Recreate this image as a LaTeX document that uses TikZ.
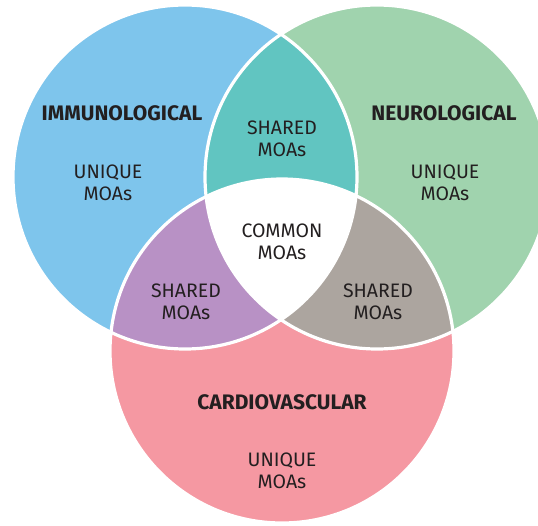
\documentclass[tikz,border=0pt]{standalone}
\usepackage{fontspec}
\setmainfont{Fira Sans}
\definecolor{cblue}{HTML}{7EC5EC}
\definecolor{cgreen}{HTML}{A0D3AE}
\definecolor{cred}{HTML}{F598A2}
\definecolor{cteal}{HTML}{61C5C1}
\definecolor{cpurple}{HTML}{B891C5}
\definecolor{cgray}{HTML}{ACA59F}
\definecolor{ctext}{HTML}{231F20}
\tikzset{
  lbl/.style={text=ctext, align=center, font=\fontsize{19.5}{22}\selectfont, inner sep=0pt},
  ttl/.style={text=ctext, align=center, font=\fontsize{21}{22}\selectfont\bfseries, inner sep=0pt},
  rim/.style={draw=white, line width=3.2pt}
}
\begin{document}
\begin{tikzpicture}[x=1pt,y=-1pt]
\useasboundingbox (0,0) rectangle (538,525);
\clip (0,0) rectangle (538,525);
\def\R{172}
\coordinate (cb) at (185,177);
\coordinate (cg) at (377,177);
\coordinate (cr) at (282,351);
\fill[cblue] (cb) circle[radius=\R];
\fill[cgreen] (cg) circle[radius=\R];
\fill[cred] (cr) circle[radius=\R];
\begin{scope}
  \clip (cb) circle[radius=\R];
  \fill[cteal] (cg) circle[radius=\R];
  \fill[cpurple] (cr) circle[radius=\R];
  \clip (cg) circle[radius=\R];
  \fill[white] (cr) circle[radius=\R];
\end{scope}
\begin{scope}
  \clip (cg) circle[radius=\R];
  \clip (cr) circle[radius=\R];
  \fill[cgray] (cr) circle[radius=\R];
  \clip (cb) circle[radius=\R];
  \fill[white] (cr) circle[radius=\R];
\end{scope}
\draw[rim] (cb) circle[radius=\R];
\draw[rim] (cg) circle[radius=\R];
\draw[rim] (cr) circle[radius=\R];
\node[ttl] (immu) at (122,113) {IMMUNOLOGICAL};
\node[ttl] (neuro) at (444,113) {NEUROLOGICAL};
\node[ttl] (cardio) at (282,402) {CARDIOVASCULAR};
\node[lbl] (ub) at (108,183) {UNIQUE\\MOAs};
\node[lbl] (ug) at (445,183) {UNIQUE\\MOAs};
\node[lbl] (ur) at (282,471) {UNIQUE\\MOAs};
\node[lbl] (sbg) at (282,139) {SHARED\\MOAs};
\node[lbl] (sbr) at (186,302) {SHARED\\MOAs};
\node[lbl] (sgr) at (378,302) {SHARED\\MOAs};
\node[lbl] (com) at (282,242) {COMMON\\MOAs};
\end{tikzpicture}
\end{document}
